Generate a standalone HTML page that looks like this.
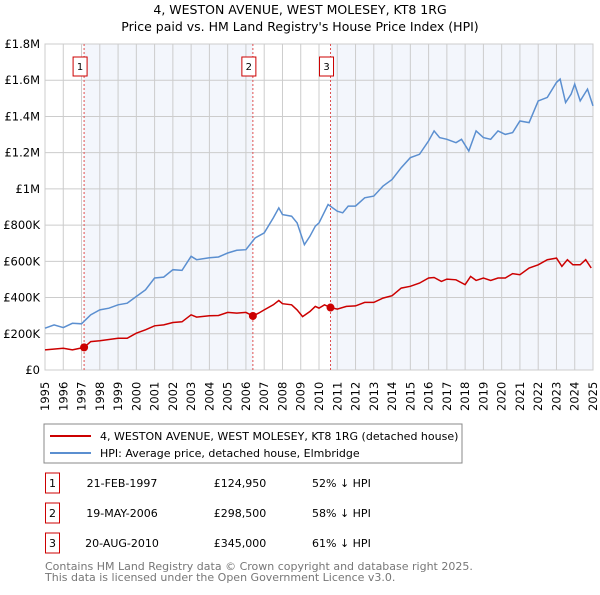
<!DOCTYPE html>
<html><head><meta charset="utf-8"><style>
body{margin:0;background:#fff;font-family:"Liberation Sans","DejaVu Sans",sans-serif}
svg text{font-family:"DejaVu Sans","Liberation Sans",sans-serif}
</style></head><body>
<svg id="c" width="600" height="590" xmlns="http://www.w3.org/2000/svg">
<text x="300" y="14" text-anchor="middle" font-size="12.5">4, WESTON AVENUE, WEST MOLESEY, KT8 1RG</text>
<text x="300" y="31" text-anchor="middle" font-size="12.5">Price paid vs. HM Land Registry's House Price Index (HPI)</text>
<g id="plot"></g>
<rect x="44" y="424" width="418" height="39" fill="#fff" stroke="#888"/>
<line x1="50" y1="436" x2="91" y2="436" stroke="#cc0000" stroke-width="2"/>
<text x="100" y="440" font-size="11">4, WESTON AVENUE, WEST MOLESEY, KT8 1RG (detached house)</text>
<line x1="50" y1="453" x2="91" y2="453" stroke="#5b8fd0" stroke-width="2"/>
<text x="100" y="457" font-size="11">HPI: Average price, detached house, Elmbridge</text>
<g id="tbl" font-size="11"></g>
<text x="45" y="570" font-size="11" fill="#777">Contains HM Land Registry data © Crown copyright and database right 2025.</text>
<text x="45" y="581" font-size="11" fill="#777">This data is licensed under the Open Government Licence v3.0.</text>
</svg>
<script>
const hpiYears=[1995,1995.5,1996,1996.5,1997,1997.5,1998,1998.5,1999,1999.5,2000,2000.5,2001,2001.5,2002,2002.5,2003,2003.3,2004,2004.5,2005,2005.5,2006,2006.5,2007,2007.5,2007.8,2008,2008.5,2008.8,2009.2,2009.5,2009.8,2010,2010.5,2011,2011.3,2011.6,2012,2012.5,2013,2013.5,2014,2014.5,2015,2015.5,2016,2016.3,2016.6,2017,2017.5,2017.8,2018.2,2018.6,2019,2019.4,2019.8,2020.2,2020.6,2021,2021.5,2022,2022.5,2023,2023.2,2023.5,2023.8,2024,2024.3,2024.7,2025];
const hpiValues=[231,249,234,258,255,305,332,341,360,369,406,443,508,513,554,550,628,609,620,624,646,661,664,729,757,840,895,858,849,812,692,738,794,812,914,877,868,905,905,951,960,1015,1052,1117,1172,1191,1265,1320,1283,1274,1255,1274,1209,1320,1283,1274,1320,1301,1311,1375,1366,1486,1505,1588,1606,1477,1523,1578,1486,1551,1458];
const ppYears=[1995,1996,1996.5,1997.14,1997.5,1998,1999,1999.5,2000,2000.5,2001,2001.5,2002,2002.5,2003,2003.3,2004,2004.5,2005,2005.5,2006,2006.38,2006.7,2007,2007.5,2007.8,2008,2008.5,2008.8,2009.1,2009.5,2009.8,2010,2010.3,2010.63,2011,2011.5,2012,2012.5,2013,2013.5,2014,2014.5,2015,2015.5,2016,2016.3,2016.7,2017,2017.5,2018,2018.3,2018.6,2019,2019.4,2019.8,2020.2,2020.6,2021,2021.5,2022,2022.5,2023,2023.3,2023.6,2023.9,2024.3,2024.6,2024.9];
const ppValues=[111,120,111,125,157,162,175,175,203,222,244,249,262,266,305,292,299,301,318,314,318,298.5,314,332,360,384,366,360,332,295,323,351,342,360,345,336,351,354,373,373,397,410,452,462,480,508,511,489,502,498,471,517,495,508,495,508,508,532,526,563,581,609,618,572,609,581,581,609,563];
const saleYears=[1997.14,2006.38,2010.63];
const saleValues=[124.95,298.5,345];
const saleLabels=["1","2","3"];
const saleDates=["21-FEB-1997","19-MAY-2006","20-AUG-2010"];
const salePrices=["£124,950","£298,500","£345,000"];
const saleDiffs=["52% ↓ HPI","58% ↓ HPI","61% ↓ HPI"];
const yTicks=[0,200,400,600,800,1000,1200,1400,1600,1800];
const yTickLabels=["£0","£200K","£400K","£600K","£800K","£1M","£1.2M","£1.4M","£1.6M","£1.8M"];
const xTicks=[];for(let y=1995;y<=2025;y++)xTicks.push(y);

const X0=45,X1=593,Y0=370,Y1=44;
const sx=v=>X0+(v-1995)/30*(X1-X0);
const sy=v=>Y0-v/1800*(Y0-Y1);
const NS="http://www.w3.org/2000/svg";
const plot=document.getElementById('plot');
function mk(t,a,p){const e=document.createElementNS(NS,t);for(const k in a)e.setAttribute(k,a[k]);(p||plot).appendChild(e);return e;}

let r=mk('rect',{x:sx(saleYears[0]),y:Y1,width:sx(saleYears[1])-sx(saleYears[0]),height:Y0-Y1,fill:'#eef2fb',opacity:0.7});


r=mk('rect',{x:sx(saleYears[2]),y:Y1,width:X1-sx(saleYears[2]),height:Y0-Y1,fill:'#eef2fb',opacity:0.7});



xTicks.forEach(t=>{
 const l=mk('line',{x1:sx(t),x2:sx(t),y1:Y1,y2:Y0,stroke:'#ccc','stroke-width':1});
 
 
 const tx=mk('text',{x:0,y:0,'font-size':11.5,transform:`translate(${sx(t)+4},${Y0+41}) rotate(-90)`});
 tx.textContent=t;
 
 
});
yTicks.forEach((t,i)=>{
 const l=mk('line',{x1:X0,x2:X1,y1:sy(t),y2:sy(t),stroke:'#ccc','stroke-width':1});
 
 
 const tx=mk('text',{x:40,y:sy(t)+4,'font-size':11.5,'text-anchor':'end'});
 tx.textContent=yTickLabels[i];
 
 
});
const ax=mk('rect',{x:X0,y:Y1,width:X1-X0,height:Y0-Y1,fill:'none',stroke:'#ccc'});



saleYears.forEach((s,i)=>{
 const l=mk('line',{x1:sx(s),x2:sx(s),y1:Y1,y2:Y0,stroke:'#e05050','stroke-width':1,'stroke-dasharray':'2,2'});
 
 
 const b=mk('rect',{x:sx(s)-11,y:57,width:14,height:19,fill:'#fff',stroke:'#cc0000'});
 
 
 const t=mk('text',{x:sx(s)-4,y:70,'font-size':10,'text-anchor':'middle'});
 t.textContent=saleLabels[i];
 
 
});

const pts=(xs,vs)=>xs.map((x,i)=>sx(x).toFixed(1)+','+sy(vs[i]).toFixed(1)).join(' ');
const h=mk('polyline',{points:pts(hpiYears,hpiValues),fill:'none',stroke:'#5b8fd0','stroke-width':1.5});


const p=mk('polyline',{points:pts(ppYears,ppValues),fill:'none',stroke:'#cc0000','stroke-width':1.5});


saleYears.forEach((s,i)=>{
 const c=mk('circle',{cx:sx(s),cy:sy(saleValues[i]),r:4,fill:'#cc0000'});
 
 
});

const tbl=document.getElementById('tbl');
saleYears.forEach((s,i)=>{
 const y=483+i*30;
 const b=mk('rect',{x:45.5,y:y-10,width:14,height:20,fill:'#fff',stroke:'#cc0000'},tbl);
 
 
 const cells=[[52.5,saleLabels[i],'middle'],[122,saleDates[i],'middle'],[240,salePrices[i],'middle'],[312,saleDiffs[i],'start']];
 cells.forEach(c=>{
  const t=mk('text',{x:c[0],y:y+4,'text-anchor':c[2]},tbl);
  t.textContent=c[1];
  
  
 });
});
</script>
</body></html>
